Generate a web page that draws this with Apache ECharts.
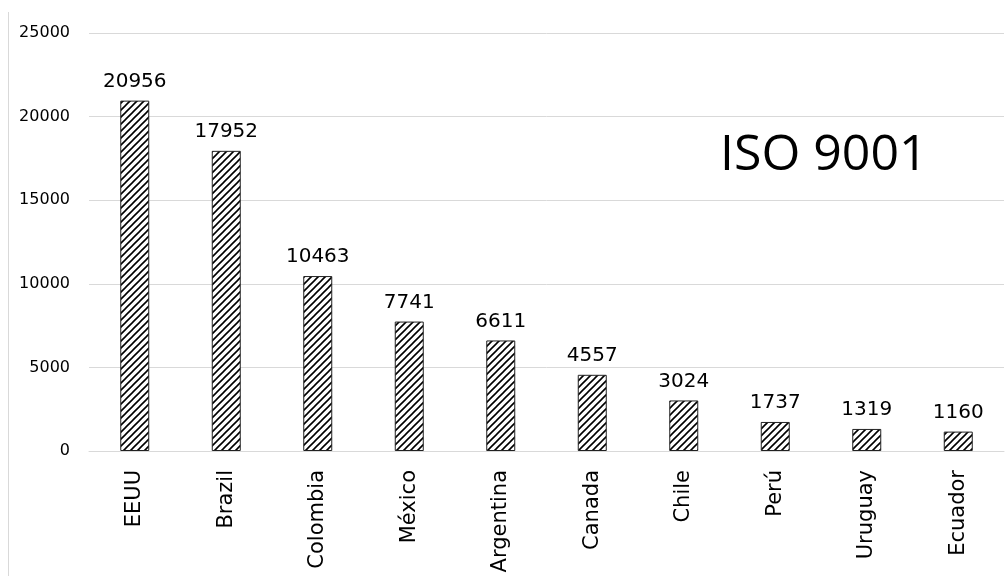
<!DOCTYPE html>
<html>
<head>
<meta charset="utf-8">
<script src="https://cdn.jsdelivr.net/npm/echarts@6/dist/echarts.min.js"></script>
<style>
html,body{margin:0;padding:0;background:#fff;}
#chart{width:1005px;height:576px;}
</style>
</head>
<body>
<div id="chart"></div>
<script>
const categories = ['EEUU','Brazil','Colombia','México','Argentina','Canada','Chile','Perú','Uruguay','Ecuador'];
const values = [20956,17952,10463,7741,6611,4557,3024,1737,1319,1160];
const yTicks = {min:0, max:25000, interval:5000};
const titleText = 'ISO 9001';

function hatch(){
  const s = 7;
  const c = document.createElement('canvas');
  c.width = s; c.height = s;
  const g = c.getContext('2d');
  g.fillStyle = '#fff';
  g.fillRect(0,0,s,s);
  g.strokeStyle = '#000';
  g.lineWidth = 1.6;
  g.beginPath();
  g.moveTo(-1, s+1); g.lineTo(s+1, -1);
  g.moveTo(-1, 1); g.lineTo(1, -1);
  g.moveTo(s-1, s+1); g.lineTo(s+1, s-1);
  g.stroke();
  return c;
}

const chart = echarts.init(document.getElementById('chart'));
chart.setOption({
  animation:false,
  backgroundColor:'#fff',
  title:{
    text:titleText, left:715, top:126,
    textStyle:{fontFamily:'Open Sans', fontSize:50, fontWeight:'normal', color:'#000'}
  },
  graphic:[{
    type:'line', shape:{x1:8.5,y1:12,x2:8.5,y2:576},
    style:{stroke:'#d9d9d9', lineWidth:1}
  }],
  grid:{left:89, right:1, top:33, bottom:125, containLabel:false},
  xAxis:{
    type:'category', data:categories,
    axisLine:{show:true, lineStyle:{color:'#d9d9d9', width:1}},
    axisTick:{show:false},
    axisLabel:{rotate:90, margin:19, fontFamily:'DejaVu Sans', fontSize:21, color:'#000'}
  },
  yAxis:{
    type:'value', min:yTicks.min, max:yTicks.max, interval:yTicks.interval,
    axisLine:{show:false}, axisTick:{show:false},
    splitLine:{lineStyle:{color:'#d9d9d9', width:1}},
    axisLabel:{margin:19, fontFamily:'DejaVu Sans', fontSize:16, color:'#000', formatter:v => String(v)}
  },
  series:[{
    type:'bar', data:values, barWidth:29,
    itemStyle:{color:{image:hatch(), repeat:'repeat'}, borderColor:'#222', borderWidth:1},
    label:{show:true, position:'top', distance:9, fontFamily:'DejaVu Sans', fontSize:20, color:'#000'}
  }]
});
</script>
</body>
</html>
